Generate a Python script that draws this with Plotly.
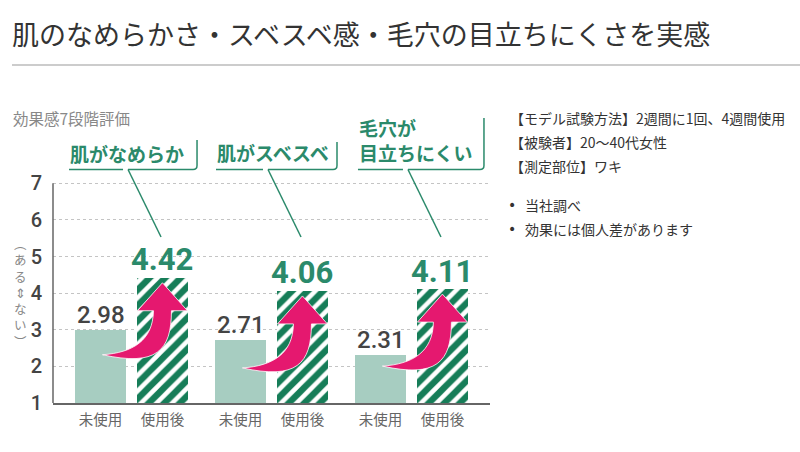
import plotly.graph_objects as go

# ---------------- data ----------------
groups = ["肌がなめらか", "肌がスベスベ", "毛穴が<br>目立ちにくい"]
before_vals = [2.98, 2.71, 2.31]
after_vals = [4.42, 4.06, 4.11]
bar_labels = ["未使用", "使用後"]
y_ticks = [1, 2, 3, 4, 5, 6, 7]
title_text = "肌のなめらかさ・スベスベ感・毛穴の目立ちにくさを実感"
subtitle_text = "効果感7段階評価"
y_label_chars = "︵ある⇕ない︶"
notes = ["【モデル試験方法】2週間に1回、4週間使用", "【被験者】20～40代女性", "【測定部位】ワキ"]
bullets = ["当社調べ", "効果には個人差があります"]

# ---------------- style / layout ----------------
W, H = 800, 452
PL, PR, PT, PB = 53, 490, 110, 403
X_RANGE = [-0.561, 2.561]
Y_RANGE = [1, 9]
XS = (PR - PL) / (X_RANGE[1] - X_RANGE[0])   # px per x unit
YS = (PB - PT) / (Y_RANGE[1] - Y_RANGE[0])   # px per y unit
OFF = 0.221
BW = 0.364

GREEN = "#167d58"
GREEN_TXT = "#2b8a6b"
LIGHT = "#a7cdc1"
PINK = "#e5186f"
DARK = "#444444"
JP = "Noto Sans CJK JP"
NUM = "Roboto"


def px_x(x):
    return (x - PL) / (PR - PL)


def px_y(y):
    return (PB - y) / (PB - PT)


def dy_from_px(ypx):
    return Y_RANGE[0] + (PB - ypx) / YS


xs = list(range(len(groups)))
x_before = [g - OFF for g in xs]
x_after = [g + OFF for g in xs]

fig = go.Figure()
fig.add_trace(go.Bar(x=x_before, y=before_vals, width=BW, marker=dict(color=LIGHT, line=dict(width=0)),
                     hoverinfo="skip", showlegend=False))
fig.add_trace(go.Bar(x=x_after, y=after_vals, width=BW,
                     marker=dict(color="white", opacity=1, line=dict(width=0),
                                 pattern=dict(shape="/", fillmode="replace", fgcolor=GREEN, fgopacity=1,
                                              bgcolor="white", size=11, solidity=0.58)),
                     hoverinfo="skip", showlegend=False))

shapes = []
annotations = []

# y-axis line
shapes.append(dict(type="line", xref="paper", yref="y", x0=0, x1=0, y0=1, y1=7,
                   line=dict(color="#666666", width=1.5), layer="above"))

# value labels
for xb, v in zip(x_before, before_vals):
    annotations.append(dict(x=xb, y=v, xref="x", yref="y", text=f"{v:.2f}", showarrow=False,
                            yanchor="middle", yshift=15,
                            font=dict(family=NUM, size=24, color=DARK, weight=500)))
for xa, v in zip(x_after, after_vals):
    annotations.append(dict(x=xa, y=v, xref="x", yref="y", text=f"{v:.2f}", showarrow=False,
                            yanchor="middle", yshift=18,
                            font=dict(family=NUM, size=31, color=GREEN_TXT, weight=700)))

# pink curved arrows (pixel-offset template relative to the tip)
def arrow_path(xc, ytip):
    def P(dx, dy):
        return f"{xc + dx / XS:.5f},{ytip - dy / YS:.5f}"
    return ("M" + P(0, 0) + " L" + P(25, 28) + " L" + P(9, 28) +
            " C" + P(9, 68) + " " + P(-6, 84) + " " + P(-60, 72) +
            " C" + P(-30, 70) + " " + P(-9.5, 58) + " " + P(-9, 28) +
            " L" + P(-25, 28) + " Z")

for xa, v in zip(x_after, after_vals):
    shapes.append(dict(type="path", xref="x", yref="y", path=arrow_path(xa, v - 5 / YS),
                       fillcolor=PINK, line=dict(color="white", width=0.8), layer="above"))

# callouts: (text-left offset, underline-right offset, vertical top px, text center px)
callout_style = [(-63.5, 61.5, 140, 153), (-56.5, 61.5, 142, 152), (-54.5, 68.5, 118, 140)]
UL = dy_from_px(169.5)
DIAG_END = dy_from_px(237)
R = 4
for g, label, (lft, rgt, top, tcy) in zip(xs, groups, callout_style):
    gx = g
    shapes.append(dict(type="line", xref="x", yref="y", x0=gx + (lft + 1) / XS, x1=gx - 8.5 / XS,
                       y0=UL, y1=UL, line=dict(color=GREEN_TXT, width=1.5)))
    path = (f"M{gx - 3.5 / XS:.5f},{UL:.5f} L{gx + rgt / XS:.5f},{UL:.5f} "
            f"Q{gx + (rgt + R) / XS:.5f},{UL:.5f} {gx + (rgt + R) / XS:.5f},{UL + R / YS:.5f} "
            f"L{gx + (rgt + R) / XS:.5f},{dy_from_px(top):.5f}")
    shapes.append(dict(type="path", xref="x", yref="y", path=path, line=dict(color=GREEN_TXT, width=1.5)))
    shapes.append(dict(type="line", xref="x", yref="y", x0=gx - 3.5 / XS, y0=UL,
                       x1=gx + 29.5 / XS, y1=DIAG_END, line=dict(color=GREEN_TXT, width=1.5)))
    annotations.append(dict(x=gx + lft / XS, y=dy_from_px(tcy), xref="x", yref="y", text=label,
                            showarrow=False, xanchor="left", yanchor="middle", align="left",
                            font=dict(family=JP, size=19, color=GREEN_TXT, weight=700)))

# title + rule
annotations.append(dict(x=px_x(10), y=px_y(33), xref="paper", yref="paper", text=title_text,
                        showarrow=False, xanchor="left", yanchor="middle",
                        font=dict(family=JP, size=27, color="#333333")))
shapes.append(dict(type="line", xref="paper", yref="paper", x0=px_x(12), x1=px_x(800),
                   y0=px_y(65), y1=px_y(65), line=dict(color="#bbbbbb", width=1.5)))
annotations.append(dict(x=px_x(11), y=px_y(118), xref="paper", yref="paper", text=subtitle_text,
                        showarrow=False, xanchor="left", yanchor="middle",
                        font=dict(family=JP, size=15.5, color="#888888")))

# vertical y-axis label (one character per line)
annotations.append(dict(x=px_x(20), y=px_y(292), xref="paper", yref="paper",
                        text="<br>".join(y_label_chars),
                        showarrow=False, xanchor="center", yanchor="middle", align="center",
                        font=dict(family=JP, size=12.5, color="#888888")))

# notes
for i, t in enumerate(notes):
    annotations.append(dict(x=px_x(508), y=px_y(118 + i * 24), xref="paper", yref="paper", text=t,
                            showarrow=False, xanchor="left", yanchor="middle",
                            font=dict(family=JP, size=14, color="#333333")))
for i, t in enumerate(bullets):
    annotations.append(dict(x=px_x(512), y=px_y(205 + i * 23.5), xref="paper", yref="paper", text="•",
                            showarrow=False, xanchor="center", yanchor="middle",
                            font=dict(family="DejaVu Sans", size=14, color="#333333")))
    annotations.append(dict(x=px_x(523), y=px_y(205 + i * 23.5), xref="paper", yref="paper", text=t,
                            showarrow=False, xanchor="left", yanchor="middle",
                            font=dict(family=JP, size=14, color="#333333")))

fig.update_layout(
    width=W, height=H, autosize=False,
    margin=dict(l=PL, r=W - PR, t=PT, b=H - PB, pad=0),
    paper_bgcolor="white", plot_bgcolor="white",
    barmode="overlay", bargap=0,
    font=dict(family=JP),
    shapes=shapes, annotations=annotations,
    xaxis=dict(range=X_RANGE, showgrid=False, zeroline=False, showline=True,
               linecolor="#666666", linewidth=1.5,
               tickvals=x_before + x_after, ticktext=[bar_labels[0]] * 3 + [bar_labels[1]] * 3,
               ticks="outside", ticklen=3, tickcolor="rgba(0,0,0,0)",
               tickfont=dict(family=JP, size=14.5, color="#666666")),
    yaxis=dict(range=Y_RANGE, tickvals=y_ticks, showgrid=True, gridcolor="#c4c4c4", griddash="dot",
               gridwidth=1, zeroline=False, showline=False,
               ticks="outside", ticklen=6, tickcolor="rgba(0,0,0,0)",
               tickfont=dict(family=NUM, size=20, color=DARK, weight=500)),
)

fig.write_html("out.html", config={"displayModeBar": False},
               post_script="document.body.style.margin='0';")
